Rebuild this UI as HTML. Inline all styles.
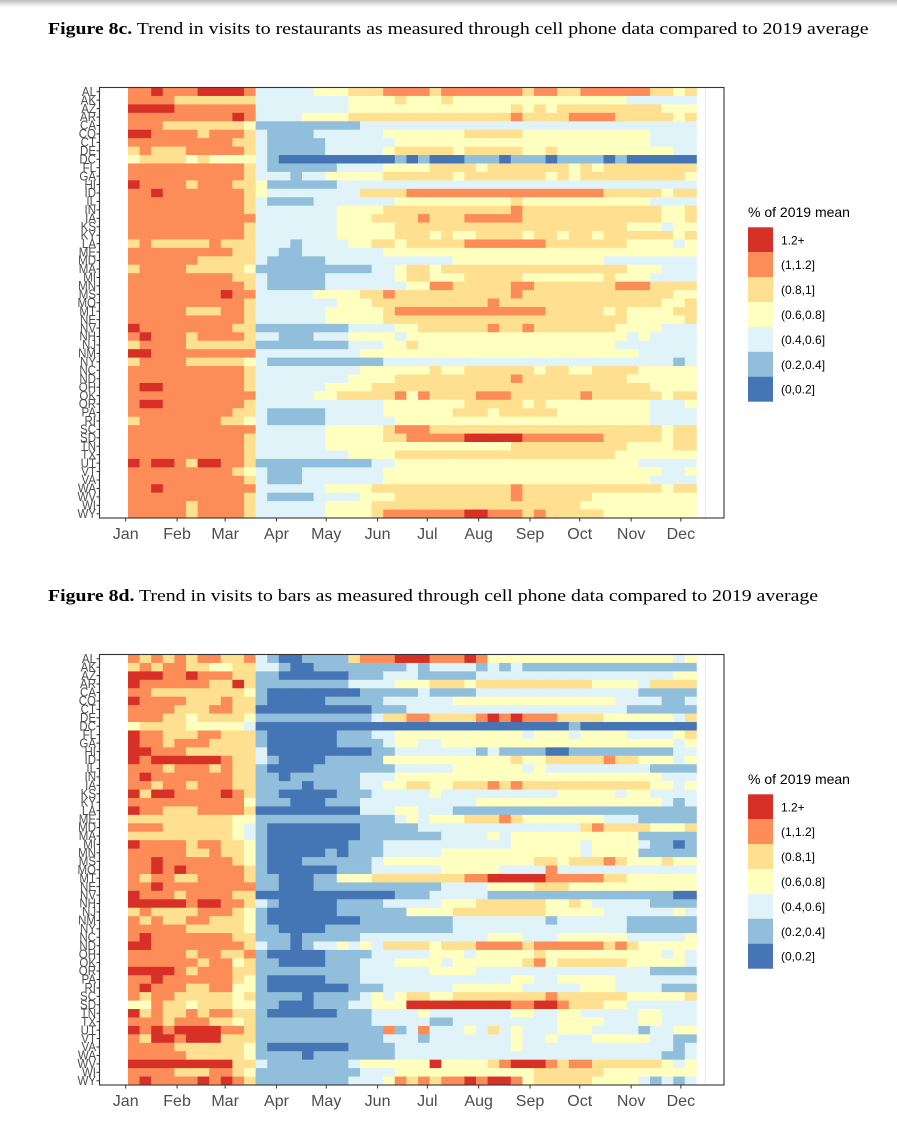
<!DOCTYPE html>
<html><head><meta charset="utf-8">
<style>
body{margin:0;width:897px;height:1137px;background:#fff;overflow:hidden;position:relative;font-family:"Liberation Sans",sans-serif}
.topbar{position:absolute;left:0;top:0;width:897px;height:7px;background:linear-gradient(#bdbdbd,#fff)}
.title{position:absolute;left:48px;font-family:"Liberation Serif",serif;font-size:17px;color:#000;white-space:nowrap;transform:scaleX(1.163);transform-origin:0 0}
svg{position:absolute;left:0}
</style></head><body>
<div class="topbar"></div>
<div class="title" style="top:19px"><b>Figure 8c.</b> Trend in visits to restaurants as measured through cell phone data compared to 2019 average</div>
<div class="title" style="top:586px"><b>Figure 8d.</b> Trend in visits to bars as measured through cell phone data compared to 2019 average</div>
<svg id="c1" style="top:0" width="897" height="560"></svg>
<svg id="c2" style="top:566.5px" width="897" height="560"></svg>
<script>
const states=["AL","AK","AZ","AR","CA","CO","CT","DE","DC","FL","GA","HI","ID","IL","IN","IA","KS","KY","LA","ME","MD","MA","MI","MN","MS","MO","MT","NE","NV","NH","NJ","NM","NY","NC","ND","OH","OK","OR","PA","RI","SC","SD","TN","TX","UT","VT","VA","WA","WV","WI","WY"];
const months=["Jan","Feb","Mar","Apr","May","Jun","Jul","Aug","Sep","Oct","Nov","Dec"];
const monthStartDay=[0,31,60,91,121,152,182,213,244,274,305,335];
const legendLabels=["1.2+","(1,1.2]","(0.8,1]","(0.6,0.8]","(0.4,0.6]","(0.2,0.4]","(0,0.2]"];
const binColors=["#4575b4","#91bfdb","#e0f3f8","#ffffbf","#fee090","#fc8d59","#d73027"];
const restaurantRows=[
"55655566665 2*5 3*3 4*3 5*4 4 5*7 4 55 44 5*6 44 3 4",
"55554444444 2*8 3*4 4 333 4 3*15 2*6",
"66665555555 2*8 3*14 4343 4*9 333",
"55555555565 2*4 3*4 4*14 5 4*4 5*4 4*5 34",
"55544444443 1*9 2*29",
"66555545554 2 1*4 2*6 3*7 4*5 3*11 2*4",
"55555555544 2 1*5 2*6 3*22 2*4",
"45444555554 2 1*5 2*5 3 4*5 3 4*5 33 4 3*10 2*3",
"34444343333 21 0*10 101 000 111 0 111 0 1111 0 1 0*6",
"55555555554 2 1*6 2*4 3*4 4*4 3 4*7 3 4 3 4*10 3 4",
"55555555554 222 1 22 3*5 44 4*4 3 4*7 3 4 3 4*9 33",
"65555455544 3 1*6 2*31",
"55655555554 3 2*8 4*4 5*17 4*5 3 44",
"55555555554 2 1*4 2*7 3*10 4 3*11 2*4",
"55555555554 2*7 3*4 4*10 4 5 4*12 334",
"55555555555 2*7 333 4*4 5 444 5*5 4*12 334",
"55555555554 2*7 3*5 4*20 333 2 33",
"55555555554 2*7 3*5 44434334444344344344444434",
"45444445444 222 1 2222 33 44 3 4*5 5*7 4*7 3333 2 3",
"55555555544 22 11 2*7 3*27",
"55555544444 2 1*5 2*11 3*13 2*8",
"45555444443 1*10 22 3 44 3 4*16 333 222",
"55555555544 2 1*5 2*6 3 44 3*3 4*5 3*7 4 333 2*4",
"55555555554 2 1*5 2*7 33 5*2 4*5 55 4*7 555 4*4 33",
"55555555655 2*5 3*4 44 5 4*10 5 4*13 33 4",
"55555555554 2*7 333 4*10 5 4*14 33 4",
"55555444554 2*6 3*5 4 5*13 4*5 3 4 3*4 4",
"55555555554 2*6 3*5 4*21 3*5 4",
"65555555544 1*8 2*4 3*2 4*6 5 44 5 4*7 3*4 2*4",
"56555455554 22 111 222 3*4 2 3*19 2 3 2*4",
"45555444444 1*8 2*3 33 4 3*17 2*5",
"66555555555 2*9 3*24 2*5",
"45555444443 2 1*10 2*25 1 2",
"55555555554 2*9 3*4 33 4 33 4*6 3 44 33 4*4 3*6",
"55555555554 2*8 3*4 4*10 5 4*9 3*6",
"56655555554 2*6 3*4 4*24 3*4",
"55555555555 2*5 33 4*5 5 3 5 4*4 555 4*6 5 4*6 3 44",
"56655555554 2*11 3*7 4*5 3 4 3*9 222 3",
"55555555544 2 1*5 2*5 3*6 444 3 4*5 3*8 2*4",
"45555555443 2 1*5 2*6 3*22 2*4",
"55555555555 2*6 3*5 4 5*3 4*20 3 4",
"55555555554 2*6 3*5 4*2 5*5 6*5 5*7 4*5 3 4",
"55555555554 2*6 3*6 3*10 4*10 3*4 4",
"55555555554 2*8 3*4 4*19 3*7",
"65665466554 1*10 2*2 3*21 2*7",
"55555555543 2 111 2*7 3*24 22 3",
"55555555554 2 111 2*7 3*23 2*4",
"55655555555 2*6 3*4 4*12 5 4*12 3 4",
"55555555554 2 1*4 2*4 333 4*10 5 4*6 3*9",
"55555455554 2*6 3*4 4*18 3*10",
"55555455554 2*6 3*4 4 5 5*6 66 555 4 5 4*5 3*8"
];
const barRows=[
"54545455445 21 00 1111 4 555 666 555 6 5 3*16 2 3",
"45455443344 22 1 00 1*8 2 1 2*4 1 2 1 2 1*13",
"66655655544 11 0*6 111 222 1*5 2*17 3",
"65555554464 1*8 2*4 333 444 3 4*10 3*4 2 4",
"55444444443 1 0*8 111 11 2 1*4 2*14 1*5",
"65555444544 1 0*5 1*5 2*6 3*14 2*4 11 2",
"55554445544 0*10 1*3 2*19 1*6",
"55544344443 1*10 2 4 4 55 4*4 5 6 5 6 555 4*4 3*6 2 4",
"34444333332 0*27 1 0*10",
"65544455444 1 0*6 111 22 3*11 2 333 2 3*4 2*4 3 4",
"65545554444 1 0*6 1*4 2 3 3 22 3*20 2 3",
"66555444444 2 0*9 11 2*7 1 2 1*4 00 1*9 22",
"65666666544 2 1 0*4 1*5 3*11 4 33 4*5 5 44 3*3 2 3",
"55545554544 1 0*4 1*7 2*5 3*6 2 3 2*9 1*4",
"56555555544 11 0 1*6 2*3 3*23 2*3",
"55455455544 1*4 0 1*4 22 3 3 44 33 444 5 4 5 4*11 33 2 3",
"64665555654 11 0*5 111 2*5 3 2*9 2 3*5 2 3*2 2*3",
"55555555553 111 000 111 2*10 3*16 2 1 2",
"65544455554 0*9 222 33 22 2 1*20",
"44444444433 1*12 2 3 2 333 444 5 4 3*7 222 1*5",
"55544444432 1 0*8 1*5 2*14 4 5 4*4 333 4",
"44444444432 1 0*8 1*7 2*4 3 2 3*11 1*6",
"65555455443 1 0*7 111 2*11 3*6 2 3*4 2 11 0 11",
"55555445443 1 0*5 1 0 111 2*5 3*12 2 3*4 1*5",
"55655555543 1 000 1*6 2 3*13 44 3 444 5 4 333 4 333",
"55656555554 1 0*6 111 2*6 3*5 2*4 5 2*7",
"54554455554 11 000 11 333 44 4*6 55 6*5 5*5 44 3*6",
"55655555555 11 000 1*11 2*4 3*4 444 3*11 222 3",
"65554555544 0*12 111 2*5 1*16 00",
"66666566554 2 1 0*5 1*4 2*5 333 4*6 33 4 3 2*5 1*4",
"45444455543 1 0*6 1*6 3*4 4*8 3*5 2*6 3 2",
"54544554443 1 0*8 1*8 2*8 1 2*6 1*6",
"55555444443 11 0*4 1*11 2*15 1*6",
"56555555544 111 0 1*5 2*11 333 2*3 3*6 2*5 3",
"66555555554 2 11 0 1 22 3 2 3 2 4*4 3 444 5*4 4 5*6 4 5 4 3*5",
"55555455445 1 0*5 1*4 2*5 3*3 2 3*5 4 3*10 2 3 2*4",
"55555545534 11 0*4 1*3 2*3 3*4 2 3*6 4 5 3 4*6 3*5 2 3",
"66665455544 1*9 2*6 3*4 2*15 1*4",
"55655555543 1 0*5 1*3 2*13 33 22 3*5 2*7",
"56555445533 1 0*7 111 2*6 3*6 2*5 333 2*4 1*3",
"54554444434 1*4 0 1*4 2 3 2 3 44 33 4*8 5 4*6 3*5 4",
"33544344433 11 000 111 22 33 3 6*9 55 66 5 444 33 2*6",
"64544545544 1 0*6 111 2*4 3 2*7 33 22 33 2*5 33 2*3",
"55545554434 1*10 2*5 11 2*9 3*4 2*3 33 2*3",
"65656666554 1*11 5 1 2 5 2*3 3 2 4 2 3 2*3 3*3 2*4 1 22 3",
"54665666444 1*11 2*3 1 2*7 3 22 3 222 3*5 2*2 1*3",
"55554444443 1 0*7 1*4 2*10 3 2*13 1 2",
"55555444443 1*4 0 1*7 2*23 11 2",
"66666666644 2 1*7 2 333 3*3 6 3*4 4 5 666 5 4 55 4*6 3 2 3",
"55554445543 1*9 2*3 3*12 4*6 3*8",
"56555565654 1*8 2*3 3 5 4 5 4 55 6 5 66 5 3 4*5 3*4 2 1 2 1 2"
];
const NWEEKS=49;
const NS="http://www.w3.org/2000/svg";
function decode(s){
  const out=[];
  s.split(" ").forEach(t=>{
    if(t.includes("*")){const [v,n]=t.split("*");for(let i=0;i<+n;i++)out.push(+v);}
    else for(const ch of t)out.push(+ch);
  });
  while(out.length<NWEEKS)out.push(out[out.length-1]);
  return out.slice(0,NWEEKS);
}
function mk(tag,attrs,parent){const e=document.createElementNS(NS,tag);for(const k in attrs)e.setAttribute(k,attrs[k]);parent.appendChild(e);return e;}
const L=99.5,R=724,T=87.5,B=518,X0=128,CW=11.6;
const RH=(B-T)/states.length;
const xCol=k=>X0+k*CW;
const xDay=d=>125.7+d*(CW/7);
const yRow=r=>T+r*RH;
function draw(svg,rows){
  const frame=mk("rect",{x:L,y:T,width:R-L,height:B-T,fill:"#fff",stroke:"none"},svg);
  
  
  const rl=mk("line",{x1:705.5,y1:T,x2:705.5,y2:B,stroke:"#ebebeb","stroke-width":1},svg);
  
  
  rows.forEach((s,r)=>{
    const vals=decode(s);
    vals.forEach((v,k)=>{
      const c=mk("rect",{x:xCol(k),y:yRow(r),width:CW+0.4,height:RH+0.4,fill:binColors[v]},svg);
      
      
    });
  });
  const border=mk("rect",{x:L,y:T,width:R-L,height:B-T,fill:"none",stroke:"#333","stroke-width":1.1},svg);
  
  
  states.forEach((st,r)=>{
    const y=yRow(r)+RH/2;
    const tk=mk("line",{x1:L-3,y1:y,x2:L,y2:y,stroke:"#333","stroke-width":1},svg);
    
    
    const t=mk("text",{x:L-3.5,y:y+4.2,"text-anchor":"end","font-size":"12.5","fill":"#4d4d4d","font-family":"Liberation Sans, sans-serif",transform:`translate(${L-3.5},${y}) scale(0.92,1) translate(${-(L-3.5)},${-y})`},svg);
    t.textContent=st;
    
    
  });
  months.forEach((m,i)=>{
    const x=xDay(monthStartDay[i]);
    const tk=mk("line",{x1:x,y1:B,x2:x,y2:B+3.5,stroke:"#333","stroke-width":1},svg);
    
    
    const t=mk("text",{x:x,y:B+21,"text-anchor":"middle","font-size":"16","fill":"#4d4d4d","font-family":"Liberation Sans, sans-serif"},svg);
    t.textContent=m;
    
    
  });
  const lt=mk("text",{x:748,y:217,"font-size":"14","fill":"#000","font-family":"Liberation Sans, sans-serif"},svg);
  lt.textContent="% of 2019 mean";
  
  
  legendLabels.forEach((lab,i)=>{
    const y=227.3+i*24.9;
    const sw=mk("rect",{x:748,y:y,width:25,height:25,fill:binColors[6-i]},svg);
    
    
    const t=mk("text",{x:781,y:y+17,"font-size":"12","fill":"#000","font-family":"Liberation Sans, sans-serif"},svg);
    t.textContent=lab;
    
    
  });
}
draw(document.getElementById("c1"),restaurantRows);
draw(document.getElementById("c2"),barRows);
</script>
</body></html>
